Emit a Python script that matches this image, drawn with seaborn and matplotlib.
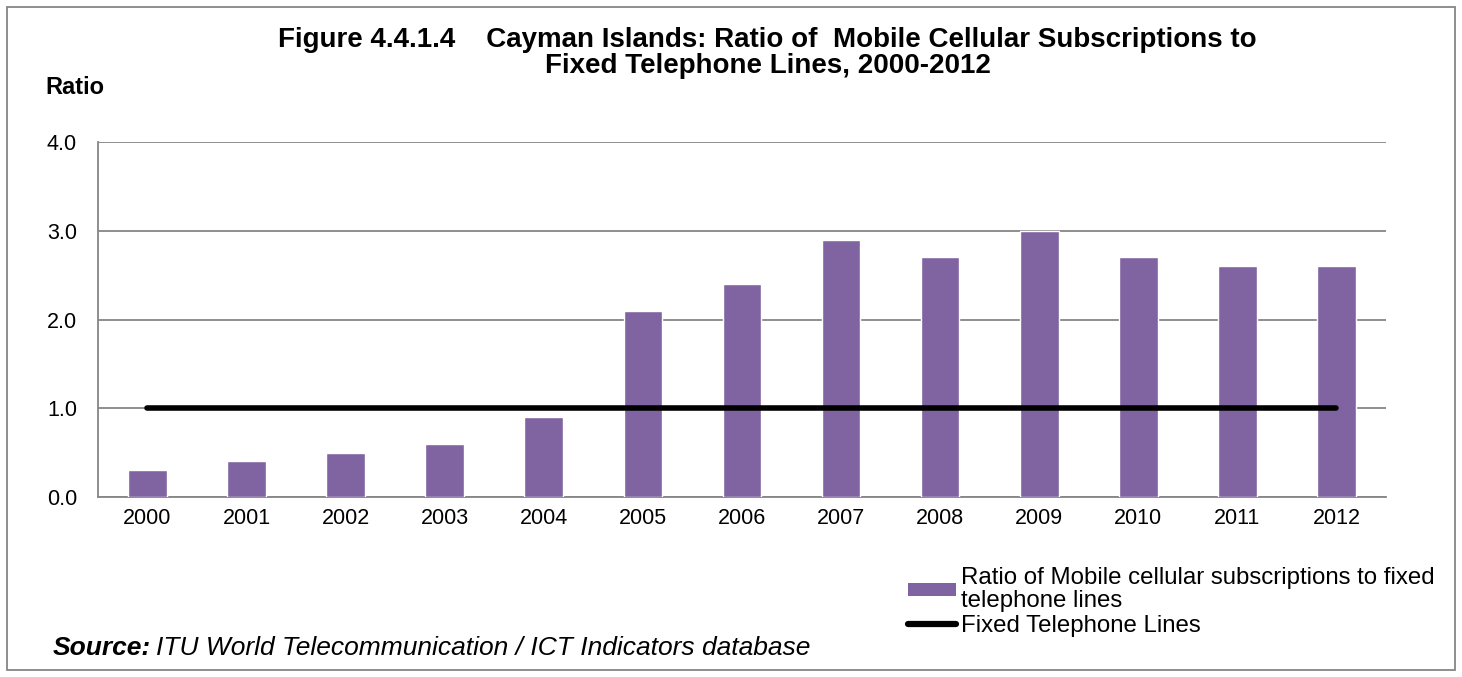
import numpy as np
import pandas as pd
import seaborn as sns
import matplotlib.pyplot as plt
from matplotlib.patches import Patch, Rectangle
from matplotlib.lines import Line2D

# Datos
years = ["2000", "2001", "2002", "2003", "2004", "2005", "2006",
         "2007", "2008", "2009", "2010", "2011", "2012"]
mobile_ratio = [0.3, 0.4, 0.5, 0.6, 0.9, 2.1, 2.4, 2.9, 2.7, 3.0, 2.7, 2.6, 2.6]
fixed_lines = [1.0] * len(years)

df = pd.DataFrame({"year": years, "ratio": mobile_ratio, "fixed": fixed_lines})

sns.set_style("white")
plt.rcParams["font.family"] = ["Liberation Sans", "DejaVu Sans"]
plt.rcParams["text.color"] = "black"
plt.rcParams["xtick.color"] = "black"
plt.rcParams["ytick.color"] = "black"

purple = "#8064A2"
grey = "#868686"

fig = plt.figure(figsize=(14.62, 6.77), dpi=100)
ax = fig.add_axes([0.067, 0.266, 0.881, 0.524])

sns.barplot(data=df, x="year", y="ratio", color=purple, width=0.39,
            saturation=1, ax=ax, zorder=3)
sns.lineplot(x=np.arange(len(years)), y=df["fixed"], color="black",
             linewidth=4, ax=ax, zorder=4, solid_capstyle="round")

ax.set_xlim(-0.5, len(years) - 0.5)
ax.set_ylim(0, 4.0)
ax.set_yticks([0, 1, 2, 3, 4])
ax.set_yticklabels([f"{v:.1f}" for v in [0, 1, 2, 3, 4]])
ax.set_xlabel("")
ax.set_ylabel("")

# rejilla horizontal
ax.yaxis.grid(True, color=grey, linewidth=1.3, zorder=0)
ax.set_axisbelow(True)
for s in ["top", "right"]:
    ax.spines[s].set_visible(False)
for s in ["left", "bottom"]:
    ax.spines[s].set_color(grey)
    ax.spines[s].set_linewidth(1.3)

# marcas del eje x entre categorias
ax.set_xticks(np.arange(len(years)))
ax.set_xticklabels(years)
ax.set_xticks(np.arange(-0.5, len(years)), minor=True)
ax.tick_params(axis="x", which="major", length=0, labelsize=15.5, pad=8)
ax.tick_params(axis="x", which="minor", length=6, width=1.3, color=grey, direction="out")
ax.tick_params(axis="y", length=5, width=1.3, color=grey, direction="out", labelsize=15.5, pad=10)

fig.text(0.525, 0.922, "Figure 4.4.1.4    Cayman Islands: Ratio of  Mobile Cellular Subscriptions to\nFixed Telephone Lines, 2000-2012",
         ha="center", va="center", fontsize=20, fontweight="bold", linespacing=1.0)
fig.text(0.031, 0.871, "Ratio", fontsize=17, fontweight="bold", va="center")

fig.text(0.036, 0.043, "Source:", fontsize=19, fontweight="bold", style="italic", va="center")
fig.text(0.107, 0.043, "ITU World Telecommunication / ICT Indicators database",
         fontsize=19, style="italic", va="center")

handles = [Patch(facecolor=purple, edgecolor="none"),
           Line2D([0], [0], color="black", linewidth=4.5, solid_capstyle="round")]
labels = ["Ratio of Mobile cellular subscriptions to fixed\ntelephone lines",
          "Fixed Telephone Lines"]
leg = fig.legend(handles, labels, loc="upper left", bbox_to_anchor=(0.621, 0.163),
                 frameon=False, fontsize=17.3, handlelength=2.0, handleheight=0.45,
                 handletextpad=0.2, labelspacing=0.12, borderaxespad=0, borderpad=0)
for t in leg.get_texts():
    t.set_linespacing(1.08)

# marco exterior
fig.patches.append(Rectangle((0.005, 0.01), 0.99, 0.98, transform=fig.transFigure,
                             fill=False, edgecolor=grey, linewidth=1.3))

fig.savefig("out.png", dpi=100)
